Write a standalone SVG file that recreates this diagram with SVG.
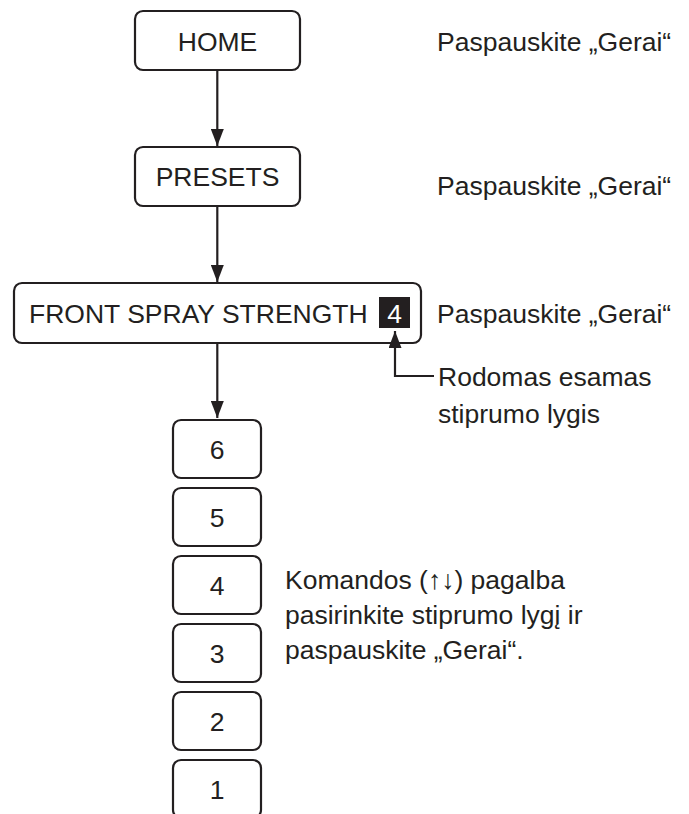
<svg xmlns="http://www.w3.org/2000/svg" width="689" height="814" viewBox="0 0 689 814">
<style>
.box{fill:#fff;stroke:#231f20;stroke-width:2.2}
.t{font-family:"Liberation Sans",Arial,sans-serif;font-size:26.5px;fill:#231f20}
.c{text-anchor:middle}
.ln{fill:none;stroke:#231f20;stroke-width:2.2}
</style>
<defs>
<marker id="ah" markerWidth="17" markerHeight="13" refX="17" refY="6.5" orient="auto" markerUnits="userSpaceOnUse" viewBox="0 0 17 13">
<path d="M0,0 L17,6.5 L0,13 Z" fill="#231f20"/>
</marker>
</defs>
<rect width="689" height="814" fill="#fff"/>
<g id="home">
<rect class="box" x="135" y="11" width="165" height="59" rx="8"/>
<text class="t c" x="217.5" y="50.5">HOME</text>
</g>
<g id="presets">
<rect class="box" x="135" y="147" width="165" height="59" rx="8"/>
<text class="t c" x="217.5" y="186">PRESETS</text>
</g>
<g id="front">
<rect class="box" x="14" y="283" width="407" height="60" rx="8"/>
<text class="t" x="29" y="322.5">FRONT SPRAY STRENGTH</text>
<rect x="379" y="297" width="31" height="31" fill="#231f20"/>
<text class="t c" x="394.5" y="322.5" style="fill:#fff">4</text>
</g>
<g id="lvl6"><rect class="box" x="173" y="420" width="88" height="58" rx="8"/><text class="t c" x="217" y="458.5">6</text></g>
<g id="lvl5"><rect class="box" x="173" y="488" width="88" height="58" rx="8"/><text class="t c" x="217" y="526.5">5</text></g>
<g id="lvl4"><rect class="box" x="173" y="556" width="88" height="58" rx="8"/><text class="t c" x="217" y="594.5">4</text></g>
<g id="lvl3"><rect class="box" x="173" y="624" width="88" height="58" rx="8"/><text class="t c" x="217" y="662.5">3</text></g>
<g id="lvl2"><rect class="box" x="173" y="692" width="88" height="58" rx="8"/><text class="t c" x="217" y="730.5">2</text></g>
<g id="lvl1"><rect class="box" x="173" y="760" width="88" height="58" rx="8"/><text class="t c" x="217" y="798.5">1</text></g>
<g id="connectors">
<line class="ln" x1="217.3" y1="70" x2="217.3" y2="146" marker-end="url(#ah)"/>
<line class="ln" x1="217.3" y1="206" x2="217.3" y2="282" marker-end="url(#ah)"/>
<line class="ln" x1="217.3" y1="343" x2="217.3" y2="418" marker-end="url(#ah)"/>
<polyline class="ln" points="434,376 395,376 395,331" marker-end="url(#ah)"/>
</g>
<g id="labels">
<text class="t" x="437" y="50.5">Paspauskite „Gerai“</text>
<text class="t" x="437" y="194.5">Paspauskite „Gerai“</text>
<text class="t" x="437" y="322.5">Paspauskite „Gerai“</text>
<text class="t" x="438" y="386">Rodomas esamas</text>
<text class="t" x="438" y="423">stiprumo lygis</text>
<text class="t" x="285" y="588.5">Komandos (↑↓) pagalba</text>
<text class="t" x="285" y="623.5">pasirinkite stiprumo lygį ir</text>
<text class="t" x="285" y="658.5">paspauskite „Gerai“.</text>
</g>
</svg>
